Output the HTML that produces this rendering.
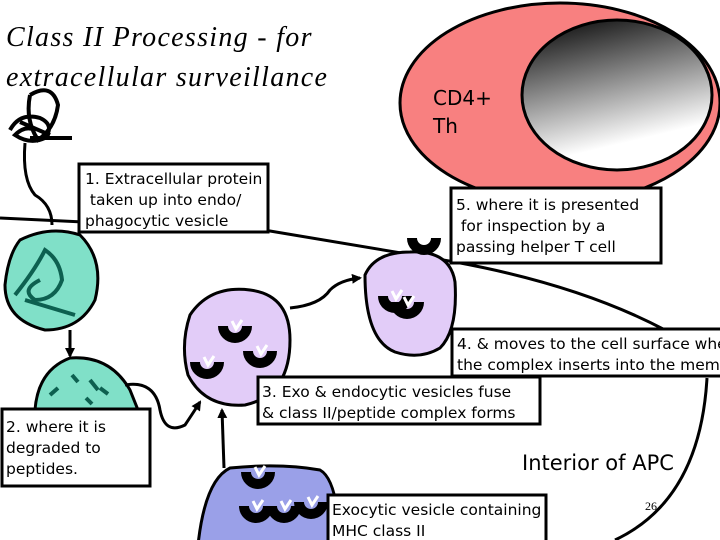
<!DOCTYPE html>
<html><head><meta charset="utf-8"><style>
body{margin:0;width:720px;height:540px;overflow:hidden;background:#fff}
svg{display:block}
text{font-family:"DejaVu Sans","Liberation Sans",sans-serif;font-size:15.5px;fill:#000}
.t{font-family:"Liberation Serif",serif;font-style:italic;font-size:28px;letter-spacing:1.3px}
</style></head><body>
<svg width="720" height="540" viewBox="0 0 720 540" xmlns="http://www.w3.org/2000/svg">
<defs>
<linearGradient id="g" x1="0" y1="0" x2="0.3" y2="1"><stop offset="0" stop-color="#000"/><stop offset="0.9" stop-color="#fff"/></linearGradient>
<g id="cup"><path d="M-12 -4 A12 12 0 0 0 12 -4" fill="none" stroke="#000" stroke-width="10"/><path d="M-3 -9 L1 -1 L7 -10" fill="none" stroke="#fff" stroke-width="3"/></g>
<marker id="a" markerUnits="userSpaceOnUse" markerWidth="10" markerHeight="10" refX="8" refY="5" orient="auto"><path d="M0 0 L10 5 L0 10z" fill="#000"/></marker>
</defs>
<text class="t" x="6" y="46">Class II Processing - for</text>
<text class="t" x="6" y="86">extracellular surveillance</text>
<ellipse cx="560" cy="103" rx="160" ry="100" fill="#f88080" stroke="#000" stroke-width="3"/>
<ellipse cx="617" cy="95" rx="95" ry="75" fill="url(#g)" stroke="#000" stroke-width="3"/>
<text x="433" y="105" style="font-size:20px">CD4+</text>
<text x="433" y="133" style="font-size:20px">Th</text>
<path d="M0 218 L270 231 L455 262 Q580 285 665 330" fill="none" stroke="#000" stroke-width="3"/>
<path d="M707 378 Q700 500 615 540" fill="none" stroke="#000" stroke-width="3"/>
<path d="M10 130 Q20 112 40 118 Q55 125 45 138 Q30 145 15 135 Q25 125 35 130 M30 95 Q52 82 58 105 Q55 128 38 140 Q25 120 30 95 M20 122 L50 135 M30 138 L72 138" fill="none" stroke="#000" stroke-width="4"/>
<path d="M25 143 Q22 180 35 195 Q52 205 52 225" fill="none" stroke="#000" stroke-width="3"/>
<path d="M20 240 Q50 225 80 235 Q105 260 95 300 Q80 330 45 330 Q5 320 5 285 Q8 255 20 240z" fill="#80e0c8" stroke="#000" stroke-width="3"/>
<path d="M15 295 Q35 270 45 250 Q60 260 62 280 Q55 300 35 300 Q20 290 40 280 M25 300 L75 315" fill="none" stroke="#0d6050" stroke-width="4"/>
<line x1="70" y1="330" x2="70" y2="356" stroke="#000" stroke-width="3" marker-end="url(#a)"/>
<path d="M35 410 Q38 370 70 358 Q110 355 130 390 L138 410z" fill="#80e0c8" stroke="#000" stroke-width="3"/>
<g stroke="#0d6050" stroke-width="4"><line x1="50" y1="395" x2="58" y2="388"/><line x1="72" y1="375" x2="78" y2="382"/><line x1="90" y1="380" x2="98" y2="390"/><line x1="86" y1="398" x2="92" y2="404"/><line x1="100" y1="388" x2="108" y2="394"/></g>
<path d="M125 385 Q155 380 160 410 Q165 435 185 425 Q195 410 200 402" fill="none" stroke="#000" stroke-width="3" marker-end="url(#a)"/>
<path d="M190 315 Q210 285 250 290 Q290 295 290 340 Q290 395 245 405 Q205 408 188 375 Q180 345 190 315z" fill="#e2ccf8" stroke="#000" stroke-width="3"/>
<use href="#cup" x="235" y="330"/><use href="#cup" x="260" y="355"/><use href="#cup" x="207" y="366"/>
<path d="M290 308 Q320 305 330 290 Q340 280 360 278" fill="none" stroke="#000" stroke-width="3" marker-end="url(#a)"/>
<path d="M365 275 Q375 252 410 252 Q450 250 455 282 Q458 330 440 348 Q420 360 395 352 Q365 340 365 275z" fill="#e2ccf8" stroke="#000" stroke-width="3"/>
<use href="#cup" x="395" y="300"/><use href="#cup" x="407" y="306"/>
<use href="#cup" x="424" y="242"/>
<line x1="224" y1="468" x2="222" y2="410" stroke="#000" stroke-width="3" marker-end="url(#a)"/>
<path d="M198 545 Q205 480 230 468 Q280 463 320 470 Q338 480 340 545z" fill="#9aa0e8" stroke="#000" stroke-width="3"/>
<use href="#cup" x="258" y="476"/><use href="#cup" x="256" y="510"/><use href="#cup" x="284" y="510"/><use href="#cup" x="311" y="506"/>
<g fill="#fff" stroke="#000" stroke-width="3">
<rect x="79" y="164" width="189" height="68"/>
<rect x="451" y="188" width="210" height="75"/>
<rect x="452" y="329" width="275" height="47"/>
<rect x="258" y="377" width="282" height="47"/>
<rect x="2" y="409" width="148" height="77"/>
<rect x="328" y="495" width="218" height="50"/>
</g>
<text x="85" y="184">1. Extracellular protein</text>
<text x="85" y="205">&#160;taken up into endo/</text>
<text x="85" y="226">phagocytic vesicle</text>
<text x="456" y="210">5. where it is presented</text>
<text x="456" y="231">&#160;for inspection by a</text>
<text x="456" y="252">passing helper T cell</text>
<text x="457" y="349">4. &amp; moves to the cell surface where</text>
<text x="457" y="370">the complex inserts into the membrane</text>
<text x="262" y="397">3. Exo &amp; endocytic vesicles fuse</text>
<text x="262" y="418">&amp; class II/peptide complex forms</text>
<text x="6" y="432">2. where it is</text>
<text x="6" y="453">degraded to</text>
<text x="6" y="474">peptides.</text>
<text x="332" y="515">Exocytic vesicle containing</text>
<text x="332" y="536">MHC class II</text>
<text x="522" y="470" style="font-size:21px">Interior of APC</text>
<text x="645" y="510" style="font-family:'Liberation Serif',serif;font-size:12px">26</text>
</svg>
</body></html>
